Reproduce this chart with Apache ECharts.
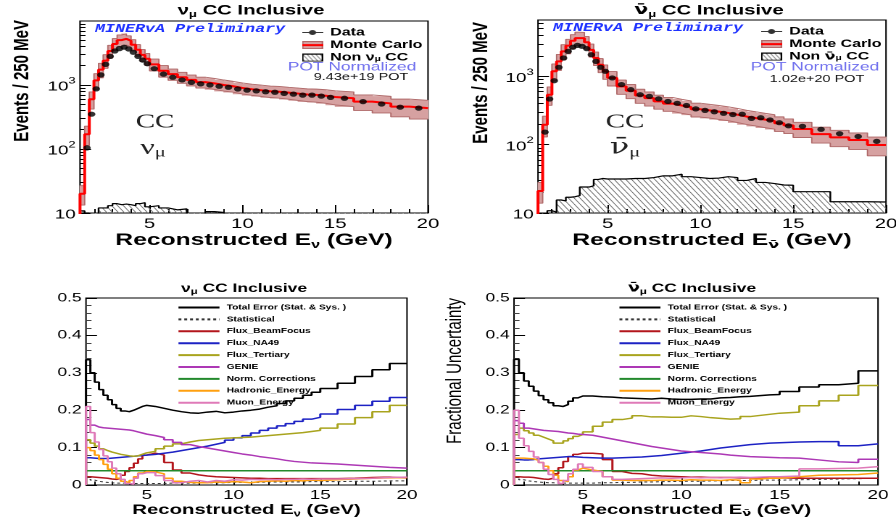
<!DOCTYPE html>
<html><head><meta charset="utf-8">
<script src="https://cdn.jsdelivr.net/npm/echarts@6/dist/echarts.min.js"></script>
<style>
html,body{margin:0;padding:0;background:#fff;overflow:hidden;}
#wrap{width:896px;height:524px;overflow:hidden;position:relative;background:#fff;}
#chart{width:618px;height:524px;transform:scaleX(1.449838);transform-origin:0 0;}
</style></head><body><div id="wrap"><div id="chart"></div></div>
<script>
// ================= DATA =================
const topEdges = [1.25,1.5,1.75,2,2.25,2.5,2.75,3,3.25,3.5,3.75,4,4.25,4.5,4.75,5,5.5,6,6.5,7,7.5,8,8.5,9,9.5,10,10.5,11,11.5,12,12.5,13,13.5,14,14.5,15,16,17,18,19,20];
const botEdges = [1.5,1.75,2,2.25,2.5,2.75,3,3.25,3.5,3.75,4,4.25,4.5,4.75,5,5.5,6,6.5,7,7.5,8,8.5,9,9.5,10,10.5,11,11.5,12,12.5,13,13.5,14,14.5,15,16,17,18,19,20];
const xMajorTicks = [5,10,15,20];
const xMinorTicks = [2,3,4,6,7,8,9,11,12,13,14,16,17,18,19];
const logMajorTicks = [10,100,1000];
const logMinorTicks = [20,30,40,50,60,70,80,90,200,300,400,500,600,700,800,900,2000,3000,4000,5000,6000,7000,8000,9000];

// nu_mu : events / 250 MeV
const numuData = [null,104,350,870,1440,2100,2800,3400,3700,3900,3650,3250,2800,2450,2150,
  1800,1480,1320,1200,1100,1040,1000,955,920,866,830,810,785,770,740,720,695,695,670,640,
  620,550,505,450,435];
const numuMC = [20,170,600,1180,1740,2400,3400,4380,5030,5260,4900,4250,3550,2960,2570,
  2100,1670,1480,1320,1200,1110,1060,1000,955,900,860,830,800,785,760,735,710,700,680,650,
  620,550,515,460,435];
const numuBkg = [10.8,10,8,8,12,12,13,14,13.5,13.8,13.5,13,14,14.5,12.5,
  13,12,11.2,11.6,8,8,10.5,10.2,8,8,8,8,8,8,8,8,8,8,8,8,
  8,8,8,8,8];
// anti nu_mu
const nubarData = [null,153,467,865,1360,1860,2330,2670,2850,2760,2550,2080,1660,1360,1190,
  950,760,640,540,510,470,430,404,375,335,318,304,288,277,280,243,248,230,210,189,
  186,168,145,132,112];
const nubarMC = [21,196,540,1190,1660,2330,2820,3330,3640,3640,3170,2450,1860,1480,1190,
  950,716,617,526,480,431,400,375,355,330,318,305,292,275,258,245,233,222,206,192,
  170,143,128,117,99];
const nubarBkg = [8,8,10.8,10.3,15.5,15,17,17.3,18,24,24,25,31,32,31.5,
  31.5,31.5,32,32,33,35,35,37,34,33,32,32.5,34,33,30,32,28,27,25.7,25.5,
  20.5,20.5,14.6,14.6,14.5];

const errNames = ['Total Error (Stat. & Sys. )','Statistical','Flux_BeamFocus','Flux_NA49','Flux_Tertiary','GENIE','Norm. Corrections','Hadronic_Energy','Muon_Energy'];

// nu_mu fractional uncertainties
const numuTotal = [0.335,0.300,0.275,0.255,0.240,0.228,0.215,0.205,0.198,0.196,0.200,0.205,0.210,0.213,
  0.210,0.205,0.200,0.196,0.193,0.192,0.195,0.197,0.193,0.195,0.198,0.200,0.203,0.208,0.212,0.218,0.225,0.232,0.240,0.248,
  0.258,0.272,0.290,0.308,0.325];
const numuStat = [0.020,0.013,0.010,0.008,0.007,0.006,0.005,0.005,0.005,0.004,0.004,0.004,0.004,0.004,
  0.004,0.004,0.005,0.005,0.005,0.005,0.006,0.006,0.006,0.007,0.007,0.007,0.007,0.008,0.008,0.008,0.008,0.008,0.009,0.009,
  0.009,0.010,0.010,0.011,0.011];
const numuBeam = [0.022,0.021,0.020,0.019,0.018,0.016,0.015,0.018,0.026,0.036,0.046,0.058,0.070,0.080,
  0.085,0.080,0.060,0.040,0.032,0.027,0.024,0.022,0.021,0.020,0.019,0.018,0.018,0.017,0.017,0.017,0.017,0.017,0.017,0.017,
  0.017,0.018,0.020,0.021,0.019];
const numuNA49 = [0.073,0.072,0.071,0.071,0.071,0.072,0.073,0.074,0.075,0.076,0.077,0.078,0.079,0.080,
  0.082,0.085,0.088,0.092,0.096,0.100,0.104,0.109,0.114,0.120,0.126,0.132,0.139,0.146,0.152,0.158,0.164,0.170,0.176,0.181,
  0.190,0.202,0.213,0.224,0.234];
const numuTert = [0.121,0.112,0.104,0.097,0.092,0.088,0.085,0.082,0.080,0.078,0.077,0.078,0.082,0.086,
  0.090,0.097,0.104,0.110,0.115,0.119,0.121,0.123,0.125,0.126,0.127,0.128,0.130,0.132,0.134,0.136,0.138,0.140,0.143,0.146,
  0.152,0.163,0.180,0.196,0.213];
const numuGenie = [0.175,0.160,0.155,0.153,0.152,0.151,0.150,0.149,0.148,0.147,0.145,0.142,0.139,0.136,
  0.132,0.127,0.121,0.114,0.108,0.103,0.099,0.095,0.091,0.087,0.083,0.080,0.076,0.073,0.070,0.066,0.063,0.061,0.059,0.058,
  0.056,0.053,0.050,0.047,0.045];
const numuNorm = [0.038,0.038,0.038,0.038,0.038,0.038,0.038,0.038,0.038,0.038,0.038,0.038,0.038,0.038,
  0.038,0.038,0.038,0.038,0.038,0.038,0.038,0.038,0.038,0.038,0.038,0.038,0.038,0.038,0.038,0.038,0.038,0.038,0.038,0.038,
  0.038,0.038,0.038,0.038,0.038];
const numuHad = [0.100,0.092,0.080,0.068,0.055,0.042,0.030,0.018,0.010,0.006,0.012,0.022,0.032,0.036,
  0.035,0.030,0.018,0.010,0.007,0.006,0.006,0.008,0.007,0.009,0.008,0.006,0.009,0.010,0.011,0.010,0.012,0.011,0.013,0.012,
  0.014,0.016,0.018,0.019,0.020];
const numuMuon = [0.210,0.140,0.115,0.095,0.078,0.062,0.045,0.030,0.015,0.004,0.002,0.018,0.030,0.033,
  0.033,0.025,0.012,0.006,0.010,0.012,0.008,0.012,0.010,0.014,0.013,0.015,0.014,0.015,0.014,0.015,0.015,0.016,0.015,0.016,
  0.016,0.017,0.018,0.020,0.021];

// anti nu_mu fractional uncertainties
const nubarTotal = [0.336,0.300,0.278,0.264,0.251,0.239,0.228,0.220,0.212,0.210,0.215,0.224,0.233,0.238,
  0.238,0.236,0.235,0.233,0.232,0.231,0.230,0.232,0.230,0.229,0.229,0.230,0.230,0.233,0.234,0.236,0.237,0.239,0.241,0.242,
  0.250,0.262,0.268,0.272,0.305];
const nubarStat = [0.020,0.014,0.011,0.009,0.008,0.007,0.006,0.006,0.005,0.005,0.005,0.005,0.005,0.005,
  0.005,0.006,0.006,0.007,0.007,0.008,0.008,0.009,0.009,0.010,0.010,0.010,0.011,0.011,0.012,0.012,0.012,0.013,0.013,0.013,
  0.014,0.015,0.016,0.017,0.018];
const nubarBeam = [0.022,0.021,0.021,0.020,0.018,0.016,0.015,0.018,0.030,0.046,0.063,0.076,0.082,0.085,
  0.085,0.083,0.068,0.036,0.031,0.030,0.026,0.024,0.023,0.022,0.021,0.021,0.020,0.020,0.020,0.019,0.019,0.019,0.019,0.019,
  0.018,0.018,0.018,0.018,0.018];
const nubarNA49 = [0.068,0.067,0.067,0.068,0.070,0.071,0.072,0.073,0.074,0.075,0.076,0.076,0.075,0.074,
  0.073,0.072,0.072,0.073,0.074,0.075,0.077,0.079,0.082,0.085,0.088,0.091,0.095,0.099,0.102,0.105,0.108,0.110,0.112,0.113,
  0.115,0.116,0.116,0.105,0.110];
const nubarTert = [0.135,0.152,0.145,0.139,0.133,0.128,0.123,0.118,0.112,0.112,0.118,0.124,0.130,0.135,
  0.142,0.157,0.168,0.175,0.179,0.185,0.182,0.182,0.181,0.181,0.185,0.183,0.180,0.178,0.176,0.177,0.183,0.186,0.189,0.192,
  0.195,0.212,0.225,0.240,0.266];
const nubarGenie = [0.172,0.165,0.152,0.150,0.148,0.146,0.145,0.144,0.143,0.141,0.139,0.138,0.136,0.135,
  0.133,0.128,0.123,0.118,0.113,0.108,0.103,0.099,0.095,0.091,0.089,0.087,0.085,0.083,0.080,0.078,0.076,0.075,0.074,0.073,
  0.072,0.067,0.062,0.060,0.069];
const nubarNorm = [0.038,0.038,0.038,0.038,0.038,0.038,0.038,0.038,0.038,0.038,0.038,0.038,0.038,0.038,
  0.038,0.038,0.038,0.038,0.038,0.038,0.038,0.038,0.038,0.038,0.038,0.038,0.038,0.038,0.038,0.038,0.038,0.038,0.038,0.038,
  0.038,0.038,0.038,0.038,0.038];
const nubarHad = [0.072,0.072,0.071,0.070,0.066,0.060,0.050,0.038,0.026,0.012,0.009,0.022,0.040,0.045,
  0.040,0.036,0.022,0.013,0.012,0.012,0.012,0.013,0.013,0.012,0.014,0.013,0.013,0.012,0.014,0.013,0.006,0.016,0.018,0.018,
  0.022,0.026,0.027,0.028,0.032];
const nubarMuon = [0.200,0.125,0.105,0.090,0.075,0.060,0.042,0.028,0.015,0.004,0.012,0.030,0.042,0.056,
  0.047,0.036,0.022,0.015,0.016,0.017,0.018,0.019,0.018,0.019,0.020,0.019,0.020,0.019,0.020,0.021,0.020,0.021,0.022,0.022,
  0.024,0.043,0.044,0.045,0.049];

// ================= LAYOUT / STYLE =================
const S = 896 / 618;
const px = v => v / S;
const FF = '"Liberation Sans", Arial, Helvetica, sans-serif';
const FBAR = '"DejaVu Sans", "Noto Sans", sans-serif';
const SERIF = '"Liberation Serif", "Times New Roman", serif';
const NU = '\u03bd', MU = '\u03bc', NUBAR = '\u03bd\u0304';
const NON_NU = 'Non ' + NU + MU + ' CC';
const NON_NB = 'Non ' + NUBAR + MU + ' CC';
const errColors = ['#000000','#333333','#b3161c','#1d22c4','#a9a41e','#ad38b5','#23892c','#ffa010','#df7ab8'];
const bandFill = '#d6a1a1';
const bandEdge = '#b06a6a';

function mkCanvas(w, h, draw) { const c = document.createElement('canvas'); c.width = w; c.height = h; draw(c.getContext('2d'), w, h); return c; }
function hatch(g, w, h, x0, y0, tw, th, col, lw) {
  g.save(); g.beginPath(); g.rect(x0, y0, tw, th); g.clip();
  g.strokeStyle = col; g.lineWidth = lw;
  for (let k = -Math.ceil(th / h + 1) * w; k < tw + w; k += w) {
    g.beginPath(); g.moveTo(x0 + k, y0); g.lineTo(x0 + k + th * (w / h), y0 + th); g.stroke();
  }
  g.restore();
}
const hatchCanvas = mkCanvas(8, 12, (g, w, h) => {
  g.strokeStyle = '#777777'; g.lineWidth = 1.4;
  for (let k = -1; k <= 1; k++) { g.beginPath(); g.moveTo(k * w, 0); g.lineTo(k * w + w, h); g.stroke(); }
});
const hatchPattern = { image: hatchCanvas, repeat: 'repeat', scaleX: 0.5, scaleY: 0.5 };
const iconData = mkCanvas(58, 32, (g, w, h) => {
  g.strokeStyle = '#000'; g.lineWidth = 4; g.beginPath(); g.moveTo(0, h / 2); g.lineTo(w, h / 2); g.stroke();
  g.fillStyle = '#000'; g.beginPath(); g.arc(w / 2, h / 2, 10, 0, Math.PI * 2); g.fill();
}).toDataURL();
const iconMC = mkCanvas(58, 32, (g, w, h) => {
  g.fillStyle = bandFill; g.fillRect(0, 0, w, h);
  g.strokeStyle = bandEdge; g.lineWidth = 4; g.strokeRect(2, 2, w - 4, h - 4);
  g.strokeStyle = '#ff0000'; g.lineWidth = 8; g.beginPath(); g.moveTo(0, h / 2); g.lineTo(w, h / 2); g.stroke();
}).toDataURL();
const iconNon = mkCanvas(58, 32, (g, w, h) => {
  g.fillStyle = '#fff'; g.fillRect(0, 0, w, h);
  hatch(g, 12, 18, 0, 0, w, h, '#777', 2.5);
  g.strokeStyle = '#000'; g.lineWidth = 4; g.strokeRect(2, 2, w - 4, h - 4);
}).toDataURL();

// ================= HELPERS =================
function binIndex(edges, x) { for (let i = 0; i < edges.length - 1; i++) if (x < edges[i + 1]) return i; return edges.length - 2; }
function stepPts(edges, vals, floor) {
  const pts = [];
  if (floor != null) pts.push([edges[0], floor]);
  vals.forEach((v, i) => pts.push([edges[i], v]));
  pts.push([edges[edges.length - 1], vals[vals.length - 1]]);
  return pts;
}
function centers(edges, vals) {
  const out = [];
  vals.forEach((v, i) => { if (v != null) out.push([(edges[i] + edges[i + 1]) / 2, v]); });
  return out;
}
function bandData(mc, totErr) {
  return mc.map((v, i) => {
    const lo = topEdges[i], hi = topEdges[i + 1];
    const e = totErr[binIndex(botEdges, (lo + hi) / 2)];
    return [lo, hi, v * (1 - e), v * (1 + e)];
  });
}
function renderBand(params, api) {
  const a = api.coord([api.value(0), api.value(3)]);
  const b = api.coord([api.value(1), api.value(2)]);
  const cs = params.coordSys;
  const r = echarts.graphic.clipRectByRect(
    { x: a[0], y: a[1], width: b[0] - a[0], height: b[1] - a[1] },
    { x: cs.x, y: cs.y, width: cs.width, height: cs.height });
  return r && { type: 'rect', shape: r, style: { fill: bandFill, stroke: bandFill, lineWidth: 0.6 } };
}
function topSeries(xi, yi, data, mc, bkg, tot, nonName) {
  const band = bandData(mc, tot);
  return [
    { type: 'custom', xAxisIndex: xi, yAxisIndex: yi, renderItem: renderBand, data: band, encode: { x: [0, 1], y: [2, 3] }, silent: true, z: 1 },
    { type: 'line', xAxisIndex: xi, yAxisIndex: yi, step: 'end', symbol: 'none', silent: true, z: 2,
      data: stepPts(topEdges, band.map(b => b[3]), null), lineStyle: { color: bandEdge, width: 0.9 } },
    { type: 'line', xAxisIndex: xi, yAxisIndex: yi, step: 'end', symbol: 'none', silent: true, z: 2,
      data: stepPts(topEdges, band.map(b => b[2]), null), lineStyle: { color: bandEdge, width: 0.9 } },
    { name: nonName, type: 'line', xAxisIndex: xi, yAxisIndex: yi, step: 'end', symbol: 'none', z: 3,
      data: stepPts(topEdges, bkg, 1), lineStyle: { color: '#000', width: 1.2 }, itemStyle: { color: '#000' },
      areaStyle: { color: hatchPattern, origin: 'start', opacity: 1 } },
    { name: 'Monte Carlo', type: 'line', xAxisIndex: xi, yAxisIndex: yi, step: 'end', symbol: 'none', z: 4,
      data: stepPts(topEdges, mc, 1), lineStyle: { color: '#ff0000', width: 2 }, itemStyle: { color: '#ff0000' } },
    { name: 'Data', type: 'scatter', xAxisIndex: xi, yAxisIndex: yi, symbol: 'circle', symbolSize: 5.2, z: 5,
      data: centers(topEdges, data), itemStyle: { color: '#000' } }
  ];
}
function fracSeries(xi, yi, arrs) {
  return errNames.map((n, k) => ({
    name: n, type: 'line', xAxisIndex: xi, yAxisIndex: yi, step: 'end', symbol: 'none', z: 3,
    data: stepPts(botEdges, arrs[k], 0),
    lineStyle: { color: errColors[k], width: k === 1 ? 1 : 1.5, type: k === 1 ? [2, 2] : 'solid' },
    itemStyle: { color: errColors[k] }
  }));
}
function richSet(fs, sfs, weight, family) {
  return {
    m: { fontSize: fs, fontWeight: weight, fontFamily: family, color: '#000', lineHeight: fs + 3 },
    b: { fontSize: fs, fontWeight: weight, fontFamily: FBAR, color: '#000', lineHeight: fs + 3 },
    s: { fontSize: sfs, fontWeight: weight, fontFamily: family, color: '#000', lineHeight: Math.round(sfs * 0.6), verticalAlign: 'bottom' },
    t: { fontSize: sfs, fontWeight: weight, fontFamily: FBAR, color: '#000', lineHeight: Math.round(sfs * 0.6), verticalAlign: 'bottom' }
  };
}
const gridBase = { show: true, borderColor: '#000', borderWidth: 1, backgroundColor: 'transparent', containLabel: false, outerBoundsMode: 'none' };
function xAxes(grid, min, name, nameFs, nameGap, labelFs, tickLen) {
  return [
    { type: 'value', gridIndex: grid, position: 'bottom', min: min, max: 20,
      axisLine: { show: false, onZero: false }, splitLine: { show: false },
      axisTick: { show: true, inside: true, length: tickLen, customValues: xMajorTicks, lineStyle: { color: '#000', width: 1 } },
      axisLabel: { show: true, customValues: xMajorTicks, fontSize: labelFs, fontFamily: FF, color: '#000', margin: 4 },
      name: name, nameLocation: 'middle', nameGap: nameGap,
      nameTextStyle: { rich: richSet(nameFs, Math.round(nameFs * 0.62), 'bold', FF) } },
    { type: 'value', gridIndex: grid, position: 'bottom', min: min, max: 20,
      axisLine: { show: false, onZero: false }, splitLine: { show: false }, axisLabel: { show: false },
      axisTick: { show: true, inside: true, length: tickLen / 2, customValues: xMinorTicks, lineStyle: { color: '#000', width: 1 } } }
  ];
}
function logYAxes(grid, max) {
  return [
    { type: 'log', logBase: 10, gridIndex: grid, position: 'left', min: 10, max: max,
      axisLine: { show: false, onZero: false }, splitLine: { show: false },
      axisTick: { show: true, inside: true, length: px(11), customValues: logMajorTicks, lineStyle: { color: '#000', width: 1 } },
      axisLabel: { show: true, customValues: logMajorTicks, margin: 3,
        formatter: v => v === 10 ? '{m|10}' : '{m|10}{p|' + Math.round(Math.log10(v)) + '}',
        rich: { m: { fontSize: 13, fontFamily: FF, color: '#000', lineHeight: 17, verticalAlign: 'bottom' },
                p: { fontSize: 9, fontFamily: FF, color: '#000', lineHeight: 6, verticalAlign: 'top' } } } },
    { type: 'log', logBase: 10, gridIndex: grid, position: 'left', min: 10, max: max,
      axisLine: { show: false, onZero: false }, splitLine: { show: false }, axisLabel: { show: false },
      axisTick: { show: true, inside: true, length: px(5.5), customValues: logMinorTicks, lineStyle: { color: '#000', width: 1 } } }
  ];
}
function fracYAxis(grid) {
  return { type: 'value', gridIndex: grid, position: 'left', min: 0, max: 0.5, interval: 0.1,
    axisLine: { show: false, onZero: false }, splitLine: { show: false },
    axisTick: { show: true, inside: true, length: px(11), lineStyle: { color: '#000', width: 1 } },
    minorTick: { show: true, splitNumber: 5, length: px(5.5), lineStyle: { color: '#444', width: 1 } },
    axisLabel: { fontSize: 12, fontFamily: FF, color: '#000', margin: 3, formatter: v => v === 0 ? '0' : v.toFixed(1) } };
}
function titleAt(text, cx, top, fs) {
  return { text: text, left: px(cx), top: top, textAlign: 'center', padding: 0,
    textStyle: { rich: richSet(fs, Math.round(fs * 0.65), 'bold', FF) } };
}
function gText(text, x, y, font, fill, align, rich, rot) {
  const st = { text: text, font: font, fill: fill, align: align, textAlign: align, verticalAlign: 'middle', textVerticalAlign: 'middle' };
  if (rich) st.rich = rich;
  const el = { type: 'text', x: px(x), y: y, silent: true, style: st, z: 10 };
  if (rot) el.rotation = rot;
  return el;
}
function topLegend(left, top, nonName, nonRich) {
  return { orient: 'vertical', left: px(left), top: top, padding: 0, itemGap: 1.6, itemWidth: px(21), itemHeight: 8,
    selectedMode: false,
    data: [{ name: 'Data', icon: 'image://' + iconData }, { name: 'Monte Carlo', icon: 'image://' + iconMC }, { name: nonName, icon: 'image://' + iconNon }],
    formatter: n => n === nonName ? nonRich : '{t|' + n + '}',
    textStyle: { fontSize: 11, fontWeight: 'bold', fontFamily: FF, color: '#000', lineHeight: 10,
      rich: { t: { fontSize: 11, fontWeight: 'bold', fontFamily: FF, color: '#000', lineHeight: 10 },
              b: { fontSize: 11, fontWeight: 'bold', fontFamily: FBAR, color: '#000', lineHeight: 10 },
              s: { fontSize: 7, fontWeight: 'bold', fontFamily: FF, color: '#000', lineHeight: 4, verticalAlign: 'bottom' } } } };
}
function errLegend(left, top) {
  return { orient: 'vertical', left: px(left), top: top, padding: 0, itemGap: 2.9, itemWidth: px(41), itemHeight: 9,
    selectedMode: false, data: errNames, itemStyle: { opacity: 0, borderWidth: 0 },
    textStyle: { fontSize: 7, fontWeight: 'bold', fontFamily: FF, color: '#000', lineHeight: 9 } };
}

const serifRich = {
  n: { fontSize: 22, fontFamily: SERIF, color: '#222', lineHeight: 24 },
  b: { fontSize: 22, fontFamily: '"DejaVu Serif", ' + SERIF, color: '#222', lineHeight: 24 },
  s: { fontSize: 14, fontFamily: SERIF, color: '#222', lineHeight: 10, verticalAlign: 'bottom' }
};
const VROT = Math.PI / 2;

const option = {
  animation: false,
  backgroundColor: '#fff',
  textStyle: { fontFamily: FF },
  title: [
    titleAt('{m|' + NU + '}{s|' + MU + '}{m| CC Inclusive}', 251, 2, 14),
    titleAt('{b|' + NUBAR + '}{s|' + MU + '}{m| CC Inclusive}', 709, 2, 14),
    titleAt('{m|' + NU + '}{s|' + MU + '}{m| CC Inclusive}', 244, 281, 12),
    titleAt('{b|' + NUBAR + '}{s|' + MU + '}{m| CC Inclusive}', 692, 281, 12)
  ],
  grid: [
    Object.assign({ left: px(80), top: 21, width: px(348), height: 192 }, gridBase),
    Object.assign({ left: px(538), top: 20, width: px(348), height: 193 }, gridBase),
    Object.assign({ left: px(86), top: 298, width: px(321), height: 187 }, gridBase),
    Object.assign({ left: px(514), top: 298, width: px(364), height: 187 }, gridBase)
  ],
  xAxis: [].concat(
    xAxes(0, 1.25, '{m|Reconstructed E}{s|' + NU + '}{m| (GeV)}', 17, 17, 14, 8),
    xAxes(1, 1.25, '{m|Reconstructed E}{t|' + NUBAR + '}{m| (GeV)}', 17, 17, 14, 8),
    xAxes(2, 1.5, '{m|Reconstructed E}{s|' + NU + '}{m| (GeV)}', 14, 16, 13, 7),
    xAxes(3, 1.5, '{m|Reconstructed E}{t|' + NUBAR + '}{m| (GeV)}', 14, 16, 13, 7)
  ),
  yAxis: [].concat(logYAxes(0, 10000), logYAxes(1, 6700), [fracYAxis(2), fracYAxis(3)]),
  legend: [
    topLegend(302, 27, NON_NU, '{t|Non ' + NU + '}{s|' + MU + '}{t| CC}'),
    topLegend(761, 26, NON_NB, '{t|Non }{b|' + NUBAR + '}{s|' + MU + '}{t| CC}'),
    errLegend(177, 303),
    errLegend(618, 303)
  ],
  graphic: [
    gText('Events / 250 MeV', 22, 20, 'bold 15px ' + FF, '#000', 'right', null, VROT),
    gText('Events / 250 MeV', 481, 22, 'bold 15px ' + FF, '#000', 'right', null, VROT),
    gText('Fractional Uncertainty', 455, 298, '15px ' + FF, '#000', 'right', null, VROT),
    gText('MINERvA Preliminary', 95, 29, 'italic bold 11.5px "Liberation Mono", "Courier New", monospace', '#1e32ff', 'left'),
    gText('POT Normalized', 352, 67, '12px ' + FF, '#7070ee', 'center'),
    gText('9.43e+19 POT', 361, 77, '10px ' + FF, '#111', 'center'),
    gText('CC', 155, 122, '20px ' + SERIF, '#222', 'center'),
    gText('{n|' + NU + '}{s|' + MU + '}', 153, 148, '22px ' + SERIF, '#222', 'center', serifRich),
    gText('MINERvA Preliminary', 553, 28, 'italic bold 11.5px "Liberation Mono", "Courier New", monospace', '#1e32ff', 'left'),
    gText('POT Normalized', 815, 67, '12px ' + FF, '#7070ee', 'center'),
    gText('1.02e+20 POT', 817, 79, '10px ' + FF, '#111', 'center'),
    gText('CC', 625, 122, '20px ' + SERIF, '#222', 'center'),
    gText('{b|' + NUBAR + '}{s|' + MU + '}', 625, 148, '22px ' + SERIF, '#222', 'center', serifRich)
  ],
  series: [].concat(
    topSeries(0, 0, numuData, numuMC, numuBkg, numuTotal, NON_NU),
    topSeries(2, 2, nubarData, nubarMC, nubarBkg, nubarTotal, NON_NB),
    fracSeries(4, 4, [numuTotal, numuStat, numuBeam, numuNA49, numuTert, numuGenie, numuNorm, numuHad, numuMuon]),
    fracSeries(6, 5, [nubarTotal, nubarStat, nubarBeam, nubarNA49, nubarTert, nubarGenie, nubarNorm, nubarHad, nubarMuon])
  )
};

const chart = echarts.init(document.getElementById('chart'), null, { renderer: 'canvas', devicePixelRatio: 2 });
chart.setOption(option);
</script></body></html>
